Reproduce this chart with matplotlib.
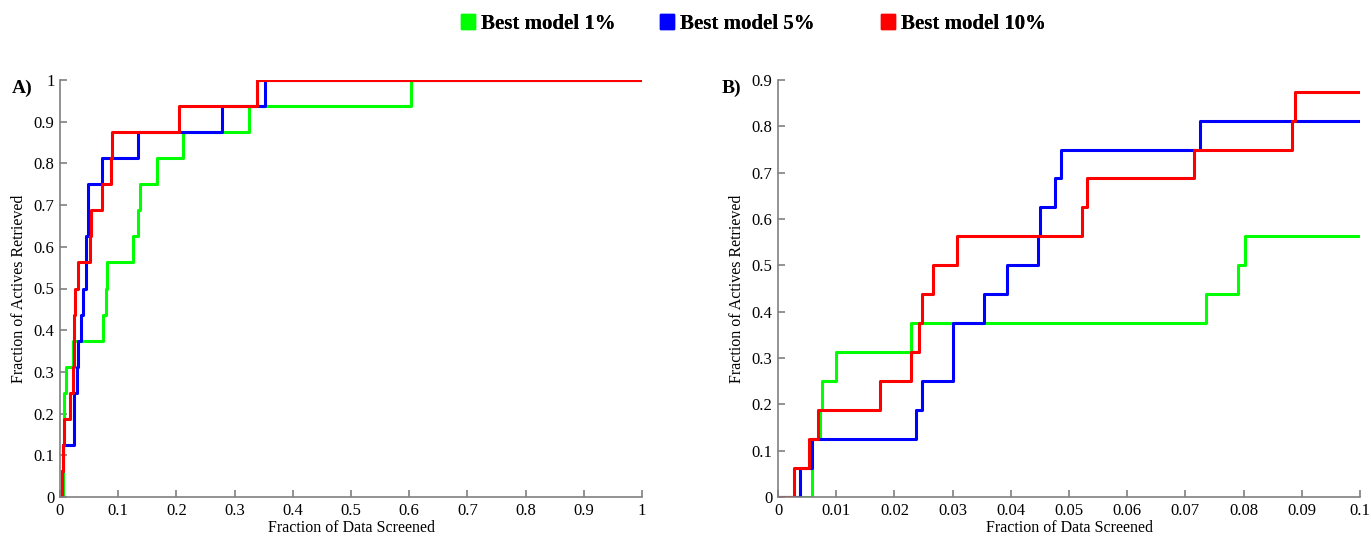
import matplotlib
matplotlib.use("Agg")
import matplotlib.pyplot as plt
from matplotlib.patches import Patch
from matplotlib.ticker import FuncFormatter

plt.rcParams['font.family'] = ['Liberation Serif', 'DejaVu Serif']

# Data: fraction of data screened (step positions) and fraction of actives retrieved
levels = [0, 0.0625, 0.125, 0.1875, 0.25, 0.3125, 0.375, 0.4375, 0.5, 0.5625,
          0.625, 0.6875, 0.75, 0.8125, 0.875, 0.9375, 1.0, 1.0]

x_1pct = [0, 0.0058, 0.0058, 0.0072, 0.0076, 0.0099, 0.0228, 0.0735, 0.0791, 0.0802,
          0.126, 0.1335, 0.1375, 0.166, 0.211, 0.325, 0.6026, 1.0]
x_5pct = [0, 0.0037, 0.0059, 0.0237, 0.0248, 0.0300, 0.0301, 0.0354, 0.0394, 0.0446,
          0.0450, 0.0476, 0.0486, 0.0725, 0.1335, 0.279, 0.352, 1.0]
x_10pct = [0, 0.0028, 0.0054, 0.0069, 0.0175, 0.0228, 0.0242, 0.0247, 0.0266, 0.0307,
           0.0522, 0.0531, 0.0715, 0.0884, 0.0888, 0.2045, 0.339, 1.0]

series = [("Best model 1%", x_1pct, "#00ff00"),
          ("Best model 5%", x_5pct, "#0000ff"),
          ("Best model 10%", x_10pct, "#ff0000")]

fig = plt.figure(figsize=(13.71, 5.36), dpi=100)
W, H = 1371, 536
axA = fig.add_axes([60 / W, 1 - 497 / H, (642 - 60) / W, (497 - 80) / H])
axB = fig.add_axes([778 / W, 1 - 497 / H, (1360 - 778) / W, (497 - 80) / H])

fmt = FuncFormatter(lambda v, p: ('%g' % round(v, 4)))

for ax, xmax, ymax, xstep, lab, lx in [(axA, 1.0, 1.0, 0.1, "A)", -0.082),
                                       (axB, 0.1, 0.9, 0.01, "B)", -0.097)]:
    for name, xs, col in series:
        ax.plot(xs, levels, drawstyle='steps-post', color=col, lw=2.2, label=name)
    ax.set_xlim(0, xmax)
    ax.set_ylim(0, ymax)
    ax.set_xticks([i * xstep for i in range(11)])
    ax.set_yticks([i * 0.1 for i in range(int(round(ymax * 10)) + 1)])
    ax.xaxis.set_major_formatter(fmt)
    ax.yaxis.set_major_formatter(fmt)
    for s in ['top', 'right']:
        ax.spines[s].set_visible(False)
    for s in ['left', 'bottom']:
        ax.spines[s].set_color('#808080')
        ax.spines[s].set_linewidth(1.2)
    ax.tick_params(direction='in', length=5, width=1.2, color='#808080',
                   labelsize=12, labelcolor='black', pad=4)
    ax.set_xlabel("Fraction of Data Screened", fontsize=11.5, labelpad=1)
    ax.set_ylabel("Fraction of Actives Retrieved", fontsize=11.5, labelpad=5)
    ax.text(lx, 0.98, lab, transform=ax.transAxes, fontsize=14, fontweight='bold',
            ha='left', va='center')

legend_pos = [461 / W, 660 / W, 881 / W]
for (name, xs, col), xp in zip(series, legend_pos):
    leg = fig.legend(handles=[Patch(facecolor=col, edgecolor=col)], labels=[name],
                     loc='center left', bbox_to_anchor=(xp, 1 - 24 / H),
                     frameon=False, handlelength=0.65, handleheight=0.75,
                     handletextpad=0.3, borderpad=0, borderaxespad=0,
                     prop={'weight': 'bold', 'size': 15})
    fig.add_artist(leg)

fig.savefig("out.png", dpi=100)
